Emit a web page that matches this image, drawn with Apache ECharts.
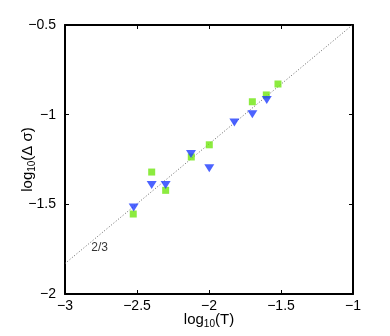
<!DOCTYPE html>
<html>
<head>
<meta charset="utf-8">
<script src="https://cdn.jsdelivr.net/npm/echarts@6/dist/echarts.min.js"></script>
<style>html,body{margin:0;padding:0;background:#fff}#c{width:390px;height:336px}</style>
</head>
<body>
<div id="c"></div>
<script>
// Green squares: [log10(T), log10(Δσ)]
var greenX = [-2.526, -2.398, -2.301, -2.123, -1.998, -1.699, -1.602, -1.521];
var greenY = [-1.554, -1.320, -1.422, -1.236, -1.168, -0.928, -0.890, -0.829];
// Blue triangles
var blueX = [-2.523, -2.398, -2.301, -2.125, -1.998, -1.824, -1.699, -1.599];
var blueY = [-1.517, -1.392, -1.392, -1.219, -1.299, -1.043, -0.998, -0.918];
// Reference line (slope 2/3)
var refLineX = [-3, -1];
var refLineY = [-1.83, -0.497];
var refLabel = {x: -2.76, y: -1.74, text: '2/3'};
// Axes
var xTicks = [-3, -2.5, -2, -1.5, -1];
var yTicks = [-2, -1.5, -1, -0.5];

function pairs(xs, ys){ return xs.map(function(x,i){ return [x, ys[i]]; }); }
function fmt(v){ return (v < 0 ? '\u2212' : '') + Math.abs(v); }

var font = 'Liberation Sans, Arial, Helvetica, sans-serif';
var rich = {
  a: {fontSize: 15, fontFamily: font, color: '#000'},
  b: {fontSize: 10, fontFamily: font, color: '#000', padding: [9, 0, 0, 0]}
};
var axisLineStyle = {color: '#000', width: 2};

var chart = echarts.init(document.getElementById('c'));
chart.setOption({
  animation: false,
  grid: {left: 65, right: 37, top: 25, bottom: 42, containLabel: false, outerBoundsMode: 'none'},
  xAxis: [{
    type: 'value', min: xTicks[0], max: xTicks[xTicks.length-1], interval: 0.5,
    splitLine: {show: false},
    axisLine: {lineStyle: axisLineStyle, onZero: false},
    axisTick: {inside: true, length: 4, lineStyle: {color: '#000'}},
    axisLabel: {formatter: fmt, color: '#000', fontSize: 14, fontFamily: font, margin: 5},
    name: '{a|log}{b|10}{a|(T)}', nameLocation: 'middle', nameGap: 16, nameMoveOverlap: false,
    nameTextStyle: {rich: rich}
  }, {
    type: 'value', position: 'top', min: xTicks[0], max: xTicks[xTicks.length-1], interval: 0.5,
    splitLine: {show: false},
    axisLine: {lineStyle: axisLineStyle, onZero: false},
    axisTick: {inside: true, length: 4, lineStyle: {color: '#000'}},
    axisLabel: {show: false}
  }],
  yAxis: [{
    type: 'value', min: yTicks[0], max: yTicks[yTicks.length-1], interval: 0.5,
    splitLine: {show: false},
    axisLine: {show: true, lineStyle: axisLineStyle, onZero: false},
    axisTick: {show: true, inside: true, length: 4, lineStyle: {color: '#000'}},
    axisLabel: {formatter: fmt, color: '#000', fontSize: 14, fontFamily: font, margin: 9},
    name: '{a|log}{b|10}{a|(\u0394 \u03c3)}', nameLocation: 'middle', nameGap: 28, nameRotate: 90, nameMoveOverlap: false,
    nameTextStyle: {rich: rich}
  }, {
    type: 'value', position: 'right', min: yTicks[0], max: yTicks[yTicks.length-1], interval: 0.5,
    splitLine: {show: false},
    axisLine: {show: true, lineStyle: axisLineStyle, onZero: false},
    axisTick: {show: true, inside: true, length: 4, lineStyle: {color: '#000'}},
    axisLabel: {show: false}
  }],
  series: [{
    type: 'line', data: pairs(refLineX, refLineY), symbol: 'none', clip: true,
    lineStyle: {type: [1, 2], color: '#666', width: 1}, silent: true, z: 1
  }, {
    type: 'scatter', data: [[refLabel.x, refLabel.y]], symbolSize: 0,
    label: {show: true, formatter: refLabel.text, color: '#000', fontSize: 12, fontFamily: font, position: 'inside'},
    z: 2
  }, {
    type: 'scatter', data: pairs(greenX, greenY), symbol: 'rect', symbolSize: 7,
    itemStyle: {color: '#6fe60f'}, z: 3
  }, {
    type: 'scatter', data: pairs(blueX, blueY), symbol: 'triangle', symbolRotate: 180, symbolSize: [10, 8],
    itemStyle: {color: '#1f3cff'}, z: 4
  }]
});
</script>
</body>
</html>
